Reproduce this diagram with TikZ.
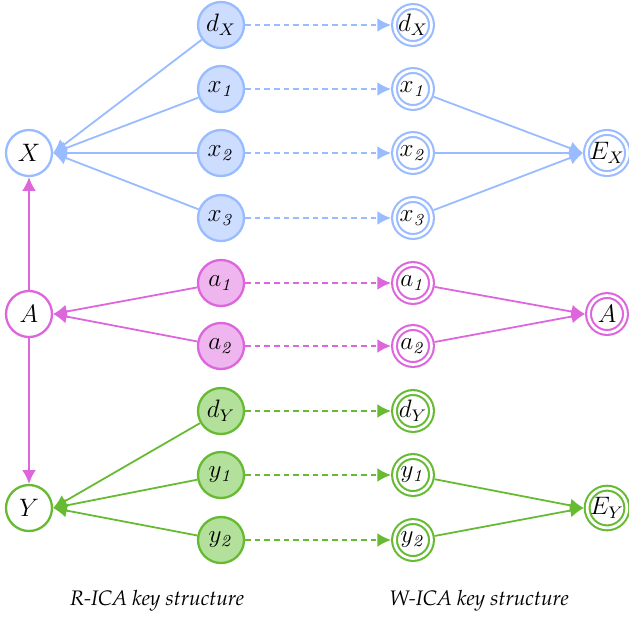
\documentclass[tikz,border=0pt]{standalone}
\usepackage[T1]{fontenc}
\renewcommand{\rmdefault}{ppl}
\DeclareMathAlphabet{\mathcmit}{OT1}{cmr}{m}{it}
\usetikzlibrary{arrows.meta}
\definecolor{bline}{HTML}{99BBFF}
\definecolor{bfill}{HTML}{CCDDFF}
\definecolor{pline}{HTML}{DD66DD}
\definecolor{pfill}{HTML}{EEB5EE}
\definecolor{gline}{HTML}{66BB33}
\definecolor{gfill}{HTML}{B3E09A}
\tikzset{
  vnode/.style={circle, line width=1.1pt, minimum size=21.9pt, inner sep=0pt, font=\large},
  wnode/.style={circle, line width=1pt, double=white, double distance=1.3pt, minimum size=17.6pt, inner sep=0pt, outer sep=1.65pt, font=\large},
  edge/.style={line width=0.85pt, -{Latex[length=6.5pt,width=6.5pt]}},
  dedge/.style={edge, dash pattern=on 2.6pt off 2pt},
  lbl/.style={font=\itshape}
}
\begin{document}
\begin{tikzpicture}[x=0.476pt,y=-0.476pt]
\useasboundingbox (0,0) rectangle (629,618);
% left main nodes
\node[vnode, draw=bline, fill=white] (X) at (29,153) {$X$};
\node[vnode, draw=pline, fill=white] (A) at (29,314) {$A$};
\node[vnode, draw=gline, fill=white] (Y) at (29,508) {$Y$};
% left column
\node[vnode, draw=bline, fill=bfill] (dX) at (221,25) {$d_X$};
\node[vnode, draw=bline, fill=bfill] (x1) at (221,89) {$x_{\mathcmit{1}}$};
\node[vnode, draw=bline, fill=bfill] (x2) at (221,153) {$x_{\mathcmit{2}}$};
\node[vnode, draw=bline, fill=bfill] (x3) at (221,218) {$x_{\mathcmit{3}}$};
\node[vnode, draw=pline, fill=pfill] (a1) at (221,283) {$a_{\mathcmit{1}}$};
\node[vnode, draw=pline, fill=pfill] (a2) at (221,346) {$a_{\mathcmit{2}}$};
\node[vnode, draw=gline, fill=gfill] (dY) at (221,411) {$d_Y$};
\node[vnode, draw=gline, fill=gfill] (y1) at (221,475) {$y_{\mathcmit{1}}$};
\node[vnode, draw=gline, fill=gfill] (y2) at (221,540) {$y_{\mathcmit{2}}$};
% right column
\node[wnode, draw=bline] (wdX) at (413,25) {$d_X$};
\node[wnode, draw=bline] (wx1) at (413,89) {$x_{\mathcmit{1}}$};
\node[wnode, draw=bline] (wx2) at (413,153) {$x_{\mathcmit{2}}$};
\node[wnode, draw=bline] (wx3) at (413,218) {$x_{\mathcmit{3}}$};
\node[wnode, draw=pline] (wa1) at (413,283) {$a_{\mathcmit{1}}$};
\node[wnode, draw=pline] (wa2) at (413,346) {$a_{\mathcmit{2}}$};
\node[wnode, draw=gline] (wdY) at (413,411) {$d_Y$};
\node[wnode, draw=gline] (wy1) at (413,475) {$y_{\mathcmit{1}}$};
\node[wnode, draw=gline] (wy2) at (413,540) {$y_{\mathcmit{2}}$};
% far right
\node[wnode, draw=bline] (EX) at (607,153) {$E_X$};
\node[wnode, draw=pline] (WA) at (607,314) {$A$};
\node[wnode, draw=gline] (EY) at (607,508) {$E_Y$};
% labels
\node[lbl] (l1) at (157,601) {R-ICA key structure};
\node[lbl] (l2) at (479,601) {W-ICA key structure};
% left edges
\foreach \s in {dX,x1,x2,x3} \draw[edge, bline] (\s) -- (X.east);
\foreach \s in {a1,a2} \draw[edge, pline] (\s) -- (A.east);
\foreach \s in {dY,y1,y2} \draw[edge, gline] (\s) -- (Y.east);
\draw[edge, pline] (A.north) -- (X.south);
\draw[edge, pline] (A.south) -- (Y.north);
% dashed
\foreach \s in {dX,x1,x2,x3} \draw[dedge, bline] (\s) -- (w\s);
\foreach \s in {a1,a2} \draw[dedge, pline] (\s) -- (w\s);
\foreach \s in {dY,y1,y2} \draw[dedge, gline] (\s) -- (w\s);
% right edges
\foreach \s in {wx1,wx2,wx3} \draw[edge, bline] (\s) -- (EX.west);
\foreach \s in {wa1,wa2} \draw[edge, pline] (\s) -- (WA.west);
\foreach \s in {wy1,wy2} \draw[edge, gline] (\s) -- (EY.west);
\end{tikzpicture}
\end{document}
